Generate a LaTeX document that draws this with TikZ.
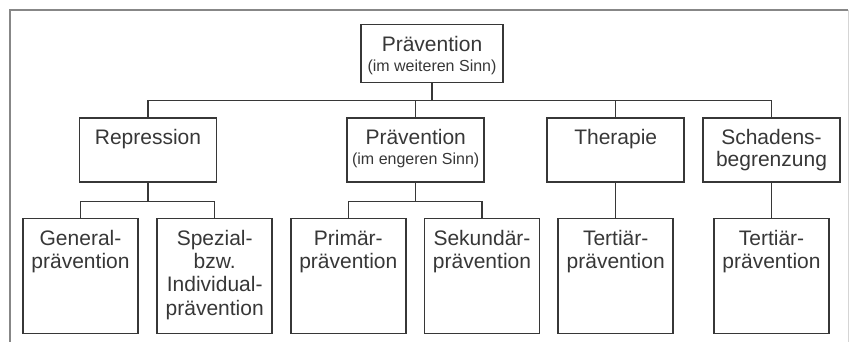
\documentclass[tikz,border=0pt]{standalone}
\usepackage{fontspec}
\setmainfont{Liberation Sans}
\usetikzlibrary{positioning}
\definecolor{ink}{RGB}{55,55,55}
\definecolor{framegray}{RGB}{135,135,135}
\tikzset{
  box/.style={draw=ink, line width=1.5pt, minimum width=137pt, minimum height=64pt, inner sep=0pt},
  boxtop/.style={box, minimum width=142pt, minimum height=58.2pt},
  boxlow/.style={box, minimum width=115pt, minimum height=115.2pt},
  lbl/.style={anchor=base, yshift=-27.5pt, text=ink, inner sep=0pt, font=\fontsize{21}{23.3}\selectfont},
  link/.style={draw=ink, line width=1.5pt},
}
\newcommand*{\klein}[1]{{\fontsize{16}{20}\selectfont #1}}
\newcommand*{\lines}[1]{\parbox[t]{135pt}{\centering #1}}

\begin{document}
\begin{tikzpicture}[x=1pt,y=-1pt]
  \useasboundingbox (0,0) rectangle (852,342);
  % frame (open at the bottom)
  \draw[framegray, line width=1.6pt] (10,342) -- (10,10) -- (848,10);
  \draw[framegray!35, line width=1pt] (848,10) -- (848,342);
  % level 1
  \node[boxtop, label={[lbl]north:\lines{Prävention\\[-3.3pt]\klein{(im weiteren Sinn)}}}] (top) at (432,53.6) {};
  % level 2
  \node[box, label={[lbl]north:\lines{Repression}}] (rep) at (148,150) {};
  \node[box, label={[lbl]north:\lines{Prävention\\[-3.3pt]\klein{(im engeren Sinn)}}}] (pie) at (415.7,150) {};
  \node[box, label={[lbl]north:\lines{Therapie}}] (ther) at (615.7,150) {};
  \node[box, label={[lbl]north:\lines{Schadens-\\[-1.5pt]begrenzung}}] (schad) at (771.5,150) {};
  % level 3
  \node[boxlow, label={[lbl]north:\lines{General-\\prävention}}] (gen) at (80.5,276.1) {};
  \node[boxlow, label={[lbl]north:\lines{Spezial-\\bzw.\\Individual-\\prävention}}] (spez) at (214.7,276.1) {};
  \node[boxlow, label={[lbl]north:\lines{Primär-\\prävention}}] (prim) at (348.3,276.1) {};
  \node[boxlow, label={[lbl]north:\lines{Sekundär-\\prävention}}] (sek) at (482,276.1) {};
  \node[boxlow, label={[lbl]north:\lines{Tertiär-\\prävention}}] (tert1) at (615.7,276.1) {};
  \node[boxlow, label={[lbl]north:\lines{Tertiär-\\prävention}}] (tert2) at (771.5,276.1) {};
  % connectors
  \foreach \c in {rep,pie,ther,schad}
    \draw[link] (top.south) -- ++(0,17.3) -| (\c.north);
  \foreach \c in {gen,spez}
    \draw[link] (rep.south) -- ++(0,19) -| (\c.north);
  \foreach \c in {prim,sek}
    \draw[link] (pie.south) -- ++(0,19) -| (\c.north);
  \draw[link] (ther.south) -- (tert1.north);
  \draw[link] (schad.south) -- (tert2.north);
\end{tikzpicture}
\end{document}
